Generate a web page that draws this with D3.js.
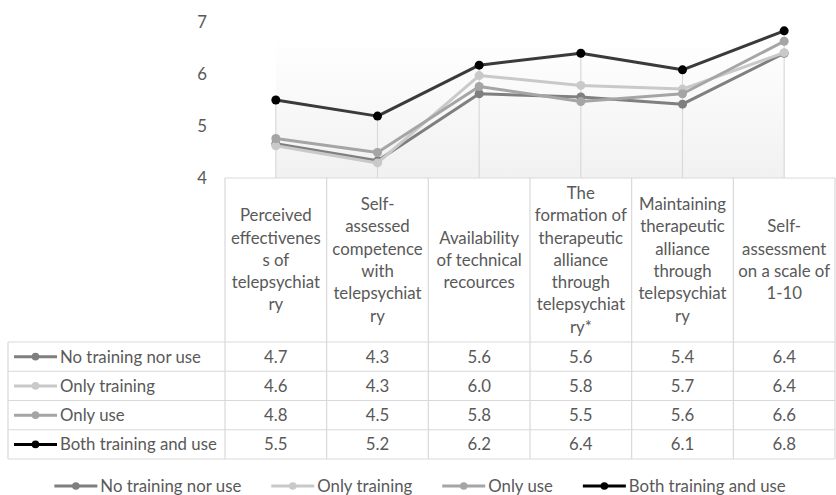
<!DOCTYPE html>
<html><head><meta charset="utf-8">
<script src="https://cdn.jsdelivr.net/npm/d3@7"></script>
<style>body{margin:0;background:#fff}svg{display:block;font-family:Lato,"Open Sans",sans-serif}</style>
</head><body><svg id="c" width="836" height="495"></svg>
<script>
const categories = [
  "Perceived\neffectivenes\ns of\ntelepsychiat\nry",
  "Self-\nassessed\ncompetence\nwith\ntelepsychiat\nry",
  "Availability\nof technical\nrecources",
  "The\nformation of\ntherapeutic\nalliance\nthrough\ntelepsychiat\nry*",
  "Maintaining\ntherapeutic\nalliance\nthrough\ntelepsychiat\nry",
  "Self-\nassessment\non a scale of\n1-10"
];
const seriesNames = ["No training nor use", "Only training", "Only use", "Both training and use"];
const noTraining   = [4.66, 4.33, 5.62, 5.56, 5.42, 6.40];
const onlyTraining = [4.62, 4.29, 5.97, 5.78, 5.71, 6.41];
const onlyUse      = [4.76, 4.49, 5.76, 5.47, 5.62, 6.63];
const bothTraining = [5.50, 5.19, 6.17, 6.40, 6.08, 6.83];
const yTicks = [4, 5, 6, 7];
const colors = ["#7f7f7f", "#c9c9c9", "#a5a5a5", "#000000"];
const lineColors = ["#7f7f7f", "#c9c9c9", "#a5a5a5", "#3a3a3a"];

const series = seriesNames.map((n, i) => ({name: n, values: [noTraining, onlyTraining, onlyUse, bothTraining][i], color: colors[i], lineColor: lineColors[i]}));

const svg = d3.select("#c");
const textColor = "#595959", border = "#d9d9d9";
const fs = 16.8;
const tableLeft = 8, colStart = 225, tableRight = 835;
const axisY = 178, headerBottom = 342, rowH = 29.25;

const x = d3.scaleBand().domain(d3.range(categories.length)).range([colStart, tableRight]).padding(0);
const cx = i => x(i) + x.bandwidth() / 2;
const y = d3.scaleLinear().domain([4, 7]).range([axisY, 22]);

// plot area gradient
const defs = svg.append("defs");
const g = defs.append("linearGradient").attr("id", "bg").attr("x1", 0).attr("y1", 0).attr("x2", 0).attr("y2", 1);
g.append("stop").attr("offset", "0%").attr("stop-color", "#ffffff");
g.append("stop").attr("offset", "100%").attr("stop-color", "#f1f1f1");
svg.append("rect").attr("x", cx(0)).attr("y", y(6.7)).attr("width", cx(categories.length - 1) - cx(0))
  .attr("height", axisY - y(6.7)).attr("fill", "url(#bg)");

// drop lines
categories.forEach((c, i) => {
  const mx = d3.max(series, s => s.values[i]);
  svg.append("line").attr("x1", cx(i)).attr("x2", cx(i)).attr("y1", y(mx)).attr("y2", axisY)
    .attr("stroke", border).attr("stroke-width", 1.2);
});

// y tick labels
svg.selectAll(".yt").data(yTicks).join("text").attr("x", 207).attr("y", d => y(d)).attr("dy", "0.35em")
  .attr("text-anchor", "end").attr("fill", textColor).attr("font-size", fs).text(d => d);

// lines
const line = d3.line().x((d, i) => cx(i)).y(d => y(d));
series.forEach(s => {
  svg.append("path").attr("d", line(s.values)).attr("fill", "none").attr("stroke", s.lineColor).attr("stroke-width", 3)
    .attr("stroke-linejoin", "round");
  svg.selectAll(null).data(s.values).join("circle").attr("cx", (d, i) => cx(i)).attr("cy", d => y(d)).attr("r", 4.5)
    .attr("fill", s.color);
});

// table
const tb = svg.append("g").attr("stroke", border).attr("stroke-width", 1.2).attr("fill", "none");
tb.append("line").attr("x1", colStart).attr("x2", tableRight).attr("y1", axisY).attr("y2", axisY);
d3.range(categories.length + 1).forEach(i => {
  const xx = i < categories.length ? x(i) : tableRight;
  tb.append("line").attr("x1", xx).attr("x2", xx).attr("y1", axisY).attr("y2", headerBottom + rowH * series.length);
});
tb.append("line").attr("x1", tableLeft).attr("x2", tableLeft).attr("y1", headerBottom).attr("y2", headerBottom + rowH * series.length);
d3.range(series.length + 1).forEach(r => {
  tb.append("line").attr("x1", tableLeft).attr("x2", tableRight).attr("y1", headerBottom + r * rowH).attr("y2", headerBottom + r * rowH);
});

// header text
const lh = 22.3;
categories.forEach((c, i) => {
  const lines = c.split("\n");
  const midY = (axisY + headerBottom) / 2;
  const t = svg.append("text").attr("text-anchor", "middle").attr("fill", textColor).attr("font-size", fs);
  lines.forEach((l, k) => {
    t.append("tspan").attr("x", cx(i)).attr("y", midY + (k - (lines.length - 1) / 2) * lh).attr("dy", "0.35em").text(l);
  });
});

// rows
const fmt = d3.format(".1f");
series.forEach((s, r) => {
  const ry = headerBottom + r * rowH + rowH / 2;
  svg.append("line").attr("x1", 14).attr("x2", 57).attr("y1", ry).attr("y2", ry).attr("stroke", s.color).attr("stroke-width", 3);
  svg.append("circle").attr("cx", 35.5).attr("cy", ry).attr("r", 3.8).attr("fill", s.color);
  svg.append("text").attr("x", 60).attr("y", ry).attr("dy", "0.35em").attr("fill", textColor).attr("font-size", fs).text(s.name);
  s.values.forEach((v, i) => {
    svg.append("text").attr("x", cx(i)).attr("y", ry).attr("dy", "0.35em").attr("text-anchor", "middle")
      .attr("fill", textColor).attr("font-size", fs).text(fmt(v));
  });
});

// bottom legend
const lg = svg.append("g");
const legY = 486;
let lx = 0;
const gap = 30;
series.forEach((s, i) => {
  const it = lg.append("g").attr("transform", `translate(${lx},0)`);
  it.append("line").attr("x1", 0).attr("x2", 43).attr("y1", legY).attr("y2", legY).attr("stroke", s.color).attr("stroke-width", 3);
  it.append("circle").attr("cx", 21.5).attr("cy", legY).attr("r", 3.8).attr("fill", s.color);
  const t = it.append("text").attr("x", 46).attr("y", legY).attr("dy", "0.35em").attr("fill", textColor).attr("font-size", fs).text(s.name);
  lx += 46 + t.node().getComputedTextLength() + gap;
});
const totalW = lx - gap;
lg.attr("transform", `translate(${420 - totalW / 2},0)`);
</script></body></html>
